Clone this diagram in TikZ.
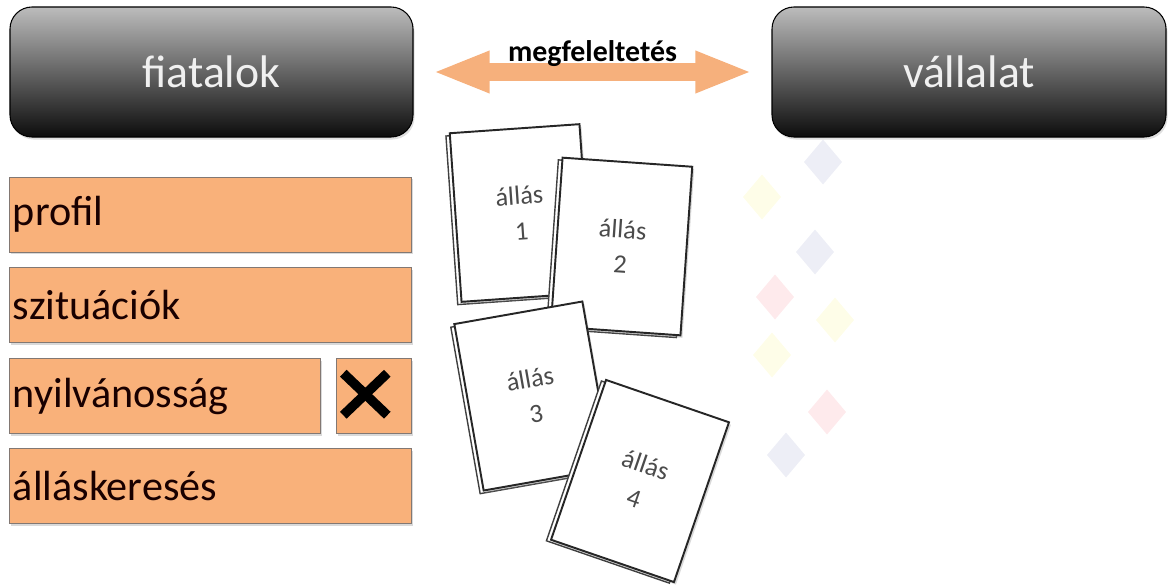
\documentclass[tikz,border=0pt]{standalone}
\usepackage{fontspec}
\setmainfont{Carlito}
\usetikzlibrary{arrows.meta,positioning,shadows}
\definecolor{headtop}{RGB}{188,188,188}
\definecolor{headbottom}{RGB}{12,12,12}
\definecolor{boxorange}{RGB}{249,177,122}
\definecolor{boxedge}{RGB}{130,120,115}
\definecolor{arroworange}{RGB}{246,176,124}
\definecolor{cardtext}{RGB}{75,75,75}
\definecolor{wmblue}{RGB}{237,238,246}
\definecolor{wmyellow}{RGB}{254,253,232}
\definecolor{wmpink}{RGB}{254,234,236}

\begin{document}
\begin{tikzpicture}[
    header/.style={
        rounded corners=0.44cm,
        top color=headtop, bottom color=headbottom,
        draw=black, line width=0.6pt,
        minimum height=2.6cm,
        text=white!94!black,
        font=\fontsize{26}{30}\selectfont,
        drop shadow={opacity=0.25, shadow xshift=0.03cm, shadow yshift=-0.05cm}
    },
    topic/.style={
        draw=boxedge, fill=boxorange, line width=0.5pt,
        minimum height=1.5cm, inner xsep=0.06cm,
        text width=#1, align=left,
        text=black!90!red,
        font=\fontsize{24}{28}\selectfont,
        drop shadow={opacity=0.3, shadow xshift=0.03cm, shadow yshift=-0.05cm}
    },
    card/.style={
        draw=black!85, fill=white, line width=1.1pt,
        minimum width=2.6cm, minimum height=3.38cm,
        align=center, text=cardtext,
        font=\fontsize{15}{20}\selectfont,
        transform shape,
        drop shadow={opacity=0.3, shadow xshift=0.04cm, shadow yshift=-0.05cm}
    },
    cardback/.style={draw=black!75, fill=white, line width=0.8pt},
    matcharrow/.style={
        {Triangle[length=1.14cm, width=0.76cm]}-{Triangle[length=1.14cm, width=0.76cm]},
        line width=0.36cm,
        draw=arroworange,
        shorten <=0.38cm, shorten >=0.38cm
    },
    crossmark/.style={line width=5.4pt, draw=black}
]

\useasboundingbox (0,0) rectangle (23.36,11.68);

% =================== Faint background diamonds ===================
\fill[wmblue]   (16.46,8.89) -- ++(0.38,-0.45) -- ++(-0.38,-0.45) -- ++(-0.38,0.45) -- cycle;
\fill[wmyellow] (15.24,8.19) -- ++(0.38,-0.45) -- ++(-0.38,-0.45) -- ++(-0.38,0.45) -- cycle;
\fill[wmblue]   (16.30,7.09) -- ++(0.38,-0.45) -- ++(-0.38,-0.45) -- ++(-0.38,0.45) -- cycle;
\fill[wmpink]   (15.50,6.19) -- ++(0.38,-0.45) -- ++(-0.38,-0.45) -- ++(-0.38,0.45) -- cycle;
\fill[wmyellow] (16.70,5.73) -- ++(0.38,-0.45) -- ++(-0.38,-0.45) -- ++(-0.38,0.45) -- cycle;
\fill[wmyellow] (15.44,5.03) -- ++(0.38,-0.45) -- ++(-0.38,-0.45) -- ++(-0.38,0.45) -- cycle;
\fill[wmpink]   (16.54,3.89) -- ++(0.38,-0.45) -- ++(-0.38,-0.45) -- ++(-0.38,0.45) -- cycle;
\fill[wmblue]   (15.72,3.03) -- ++(0.38,-0.45) -- ++(-0.38,-0.45) -- ++(-0.38,0.45) -- cycle;

% =================== Headers ===================
\node[header, minimum width=8.06cm] (fiatalok) at (4.23,10.24) {fiatalok};
\node[header, minimum width=7.88cm] (vallalat) at (19.38,10.24) {vállalat};

% Matching arrow
\draw[matcharrow] (fiatalok) -- (vallalat)
    node[midway, yshift=0.36cm, text=black, font=\bfseries\fontsize{17}{20}\selectfont] (matchlabel) {megfeleltetés};

% =================== Topic boxes ===================
\node[topic=7.92cm, below=0.78cm of fiatalok.south west, anchor=north west] (profil) {profil};
\node[topic=7.92cm, below=0.3cm of profil] (szituaciok) {szituációk};
\node[topic=6.10cm, below=0.3cm of szituaciok.south west, anchor=north west] (nyilvanossag) {nyilvánosság};
\node[topic=1.38cm, right=0.3cm of nyilvanossag] (xbox) {};
\node[topic=7.92cm, below=0.28cm of nyilvanossag.south west, anchor=north west] (allaskereses) {álláskeresés};

% Cross
\coordinate (xmid) at ([xshift=-0.18cm, yshift=0.04cm]xbox.center);
\draw[crossmark] ([shift={(-0.44,0.42)}]xmid) -- ([shift={(0.44,-0.42)}]xmid);
\draw[crossmark] ([shift={(-0.44,-0.42)}]xmid) -- ([shift={(0.44,0.42)}]xmid);

% =================== Card 1 ===================
\begin{scope}[shift={(10.41,7.42)}, rotate=4]
    \draw[cardback] (-1.38,-1.74) rectangle (1.22,1.64);
    \node[card] (job1) at (0,0) {állás\\1};
\end{scope}

% =================== Card 2 ===================
\begin{scope}[shift={(12.43,6.75)}, rotate=-4]
    \draw[cardback] (-1.38,-1.74) rectangle (1.22,1.64);
    \node[card] (job2) at (0,0) {állás\\2};
\end{scope}

% =================== Card 3 ===================
\begin{scope}[shift={(10.66,3.76)}, rotate=10]
    \draw[cardback] (-1.38,-1.74) rectangle (1.22,1.64);
    \node[card] (job3) at (0,0) {állás\\3};
\end{scope}

% =================== Card 4 ===================
\begin{scope}[shift={(12.80,2.06)}, rotate=-19]
    \draw[cardback] (-1.38,-1.74) rectangle (1.22,1.64);
    \node[card] (job4) at (0,0) {állás\\4};
\end{scope}

\end{tikzpicture}
\end{document}
